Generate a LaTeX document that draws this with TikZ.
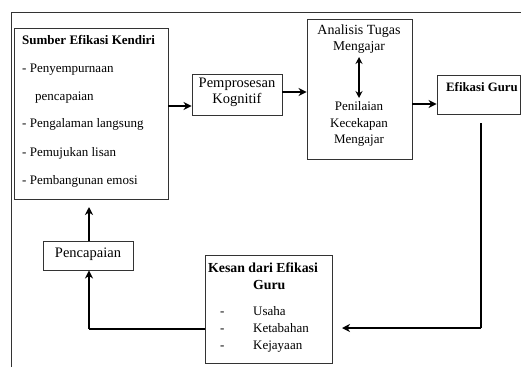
\documentclass[tikz,border=0pt]{standalone}
\usepackage{fontspec}
\setmainfont{Liberation Serif}
\usetikzlibrary{arrows.meta}
\begin{document}
\begin{tikzpicture}[x=1pt,y=-1pt,
  box/.style={draw=black!80,line width=0.9pt,inner sep=0pt,minimum width=#1},
  txt/.style={inner sep=0pt,text height=0.68em,text depth=0.22em,font=\fontsize{#1}{#1}\selectfont},
  txt/.default=13,
  btxt/.style={inner sep=0pt,text height=0.68em,text depth=0.22em,font=\fontsize{#1}{#1}\selectfont\bfseries},
  btxt/.default=13,
  arr/.style={line width=2.2pt,-{Stealth[length=8pt,width=8pt,inset=2.5pt]}},
  dblarr/.style={line width=2pt,{Stealth[length=7pt,width=7pt,inset=2.5pt]}-{Stealth[length=7pt,width=7pt,inset=2.5pt]}},
  ln/.style={line width=2.2pt}]
\useasboundingbox (0,0) rectangle (521,367);
% outer frame
\coordinate (fbl) at (11,367);
\coordinate (ftl) at (11,12);
\coordinate (ftr) at (521,12);
\draw[black!80,line width=0.9pt] (fbl) -- (ftl) -- (ftr);
% boxes
\node[box=154pt,minimum height=171pt] (sumber) at (91,113.5) {};
\node[box=90pt,minimum height=41pt] (pemp) at (237,94.5) {};
\node[box=105pt,minimum height=140pt] (anal) at (359.5,89) {};
\node[box=83pt,minimum height=39pt] (efik) at (478.5,94.5) {};
\node[box=127pt,minimum height=108pt] (kesan) at (268.5,309) {};
\node[box=90pt,minimum height=29pt] (penc) at (88,255.5) {};
% texts: Sumber
\node[btxt,anchor=west] (s0) at (22,42) {Sumber Efikasi Kendiri};
\node[txt,anchor=west] (s1) at (22,70) {- Penyempurnaan};
\node[txt,anchor=west] (s2) at (35,98) {pencapaian};
\node[txt,anchor=west] (s3) at (22,125) {- Pengalaman langsung};
\node[txt,anchor=west] (s4) at (22,154) {- Pemujukan lisan};
\node[txt,anchor=west] (s5) at (22,182) {- Pembangunan emosi};
% Pemprosesan
\node[txt=14.5] (p1) at (237,85) {Pemprosesan};
\node[txt=14.5] (p2) at (237,101) {Kognitif};
% Analisis
\node[txt=14] (a1) at (359,32) {Analisis Tugas};
\node[txt=13.5] (a2) at (359,48.5) {Mengajar};
\node[txt=13] (a3) at (359,108) {Penilaian};
\node[txt=13] (a4) at (359,125) {Kecekapan};
\node[txt=13] (a5) at (359,141) {Mengajar};
% Efikasi Guru
\node[btxt=12.8,anchor=west] (e1) at (446,89) {Efikasi Guru};
% Kesan
\node[btxt=13.8,anchor=west] (k1) at (208,270) {Kesan dari Efikasi};
\node[btxt=13.8,anchor=west] (k2) at (253,287) {Guru};
\node[txt,anchor=west] (k3) at (220,313) {\makebox[33pt][l]{-}Usaha};
\node[txt,anchor=west] (k4) at (220,330) {\makebox[33pt][l]{-}Ketabahan};
\node[txt,anchor=west] (k5) at (220,347) {\makebox[33pt][l]{-}Kejayaan};
% Pencapaian
\node[txt=14.5] (c1) at (88,255.5) {Pencapaian};
% connectors
\draw[arr] (sumber.east |- 0,106) -- (pemp.west |- 0,106);
\draw[arr] (pemp.east |- 0,92) -- (anal.west |- 0,92);
\draw[arr] (anal.east |- 0,104) -- (efik.west |- 0,104);
\coordinate (dtop) at (359,57);
\coordinate (dbot) at (359,98);
\draw[dblarr] (dtop) -- (dbot);
\coordinate (estart) at (481,123);
\coordinate (eturn) at (481,328);
\coordinate (eend) at (342,328);
\draw[ln] (estart) -- (eturn);
\draw[arr] (eturn) -- (eend);
\coordinate (kturn) at (89,329);
\draw[ln] (kesan.west |- 0,329) -- (kturn);
\draw[arr] (kturn) -- (penc.south -| kturn);
\coordinate (stop) at (89,207);
\draw[arr] (penc.north -| stop) -- (stop);
\end{tikzpicture}
\end{document}
